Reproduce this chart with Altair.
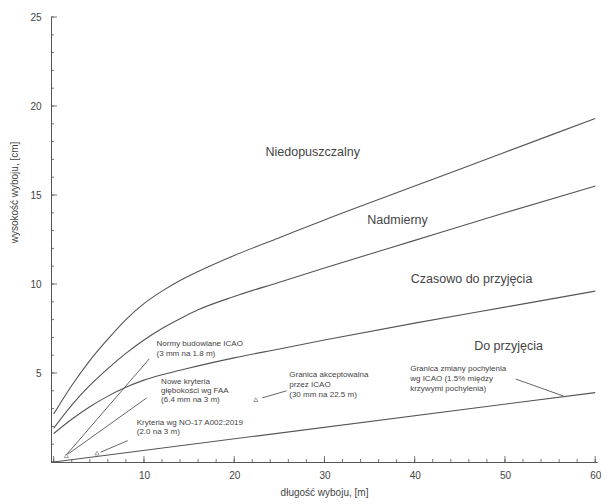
import altair as alt
import pandas as pd

# ---- data ----
x_grid = [0, 2, 4, 6, 8, 10, 12, 14, 16, 20, 25, 30, 40, 50, 60]
curve_niedop = [2.7, 4.3, 5.7, 6.9, 8.0, 8.9, 9.6, 10.2, 10.7, 11.6, 12.6, 13.6, 15.5, 17.4, 19.3]
curve_nadm = [1.9, 3.2, 4.3, 5.25, 6.1, 6.85, 7.5, 8.05, 8.55, 9.3, 10.1, 10.9, 12.45, 14.0, 15.5]
curve_czas = [1.6, 2.4, 3.1, 3.7, 4.2, 4.6, 4.9, 5.15, 5.4, 5.85, 6.35, 6.85, 7.8, 8.7, 9.6]
line_do_x = [0, 60]
line_do_y = [0, 3.9]

zone_labels = ["Niedopuszczalny", "Nadmierny", "Czasowo do przyjęcia", "Do przyjęcia"]
zone_x = [28.7, 38.1, 46.3, 50.4]
zone_y = [17.4, 13.6, 10.3, 6.5]

note_lines = [
    "Normy budowlane ICAO", "(3 mm na 1.8 m)",
    "Nowe kryteria", "głębokości wg FAA", "(6.4 mm na 3 m)",
    "Kryteria wg NO-17 A002:2019", "(2.0 na 3 m)",
    "Granica akceptowalna", "przez ICAO", "(30 mm na 22.5 m)",
    "Granica zmiany pochylenia", "wg ICAO (1.5% między", "krzywymi pochylenia)",
]
note_x = [11.4, 11.4, 11.9, 11.9, 11.9, 9.2, 9.2, 26.1, 26.1, 26.1, 39.5, 39.5, 39.5]
note_y = [6.63, 6.07, 4.49, 3.99, 3.48, 2.19, 1.69, 4.89, 4.33, 3.77, 5.22, 4.66, 4.10]

# leader lines (start = arrow tip, end = near label)
leader_names = ["ICAO normy", "FAA", "NO-17", "ICAO 22.5", "pochylenie"]
leader_x1 = [1.4, 1.6, 5.2, 23.1, 56.5]
leader_y1 = [0.4, 0.45, 0.55, 3.6, 3.7]
leader_x2 = [10.6, 10.3, 8.2, 25.8, 51.2]
leader_y2 = [5.8, 3.6, 1.2, 4.0, 4.66]
tip_x = [1.4, 4.8, 22.4]
tip_y = [0.35, 0.5, 3.5]

y_minor = list(range(0, 26))
y_major = [0, 5, 10, 15, 20, 25]
x_minor = list(range(0, 61, 2))
x_major = [0, 10, 20, 30, 40, 50, 60]

# ---- build tables ----
rows = []
for name, ys_ in [("niedop", curve_niedop), ("nadm", curve_nadm), ("czas", curve_czas)]:
    for xv, yv in zip(x_grid, ys_):
        rows.append({"series": name, "x": xv, "y": yv})
for xv, yv in zip(line_do_x, line_do_y):
    rows.append({"series": "do", "x": xv, "y": yv})
curves = pd.DataFrame(rows)

zones = pd.DataFrame({"label": zone_labels, "x": zone_x, "y": zone_y})
notes = pd.DataFrame({"label": note_lines, "x": note_x, "y": note_y})
leaders = pd.DataFrame({"name": leader_names, "x": leader_x1, "y": leader_y1,
                        "x2": leader_x2, "y2": leader_y2})
tips = pd.DataFrame({"x": tip_x, "y": tip_y})

W, H = 546, 445
LINE = "#555555"
TXT = "#444444"
FONT = "Liberation Sans"

xs = alt.Scale(domain=[-0.3, 60.2], nice=False, zero=False)
ys = alt.Scale(domain=[0, 25], nice=False)

xaxis = alt.Axis(values=x_major[1:], ticks=False, labelPadding=8, grid=False,
                 domainColor=LINE, labelColor=TXT, labelFontSize=10, labelFont=FONT,
                 title="długość wyboju, [m]", titleFont=FONT, titleFontSize=10,
                 titleFontWeight="normal", titleColor=TXT, titlePadding=7)
yaxis = alt.Axis(values=y_major[1:], ticks=False, labelPadding=10, grid=False,
                 domainColor=LINE, labelColor=TXT, labelFontSize=10, labelFont=FONT,
                 title="wysokość wyboju, [cm]", titleFont=FONT, titleFontSize=10,
                 titleFontWeight="normal", titleColor=TXT, titleX=-32, titleY=175)

base_curves = alt.Chart(curves).mark_line(color=LINE, strokeWidth=1.1, interpolate="monotone").encode(
    x=alt.X("x:Q", scale=xs, axis=xaxis),
    y=alt.Y("y:Q", scale=ys, axis=yaxis),
    detail="series:N",
)

lead = alt.Chart(leaders).mark_rule(color=LINE, strokeWidth=0.9).encode(
    x=alt.X("x:Q", scale=xs), y=alt.Y("y:Q", scale=ys), x2="x2:Q", y2="y2:Q"
)

tipm = alt.Chart(tips).mark_point(shape="triangle-up", filled=False, size=18,
                                  color=LINE, strokeWidth=0.8).encode(
    x=alt.X("x:Q", scale=xs), y=alt.Y("y:Q", scale=ys)
)

zone_text = alt.Chart(zones).mark_text(font=FONT, fontSize=12.5, color=TXT, align="center",
                                       baseline="middle").encode(
    x=alt.X("x:Q", scale=xs), y=alt.Y("y:Q", scale=ys), text="label:N"
)

note_text = alt.Chart(notes).mark_text(font=FONT, fontSize=8, color=TXT, align="left",
                                       baseline="middle").encode(
    x=alt.X("x:Q", scale=xs), y=alt.Y("y:Q", scale=ys), text="label:N"
)

ytick_minor = alt.Chart(pd.DataFrame({"v": y_minor})).mark_rule(color=LINE, strokeWidth=0.8).encode(
    y=alt.Y("v:Q", scale=ys), x=alt.value(0), x2=alt.value(3)
)
ytick_major = alt.Chart(pd.DataFrame({"v": y_major})).mark_rule(color=LINE, strokeWidth=0.8).encode(
    y=alt.Y("v:Q", scale=ys), x=alt.value(0), x2=alt.value(6)
)
xtick_minor = alt.Chart(pd.DataFrame({"v": x_minor})).mark_rule(color=LINE, strokeWidth=0.8).encode(
    x=alt.X("v:Q", scale=xs), y=alt.value(H), y2=alt.value(H - 3)
)
xtick_major = alt.Chart(pd.DataFrame({"v": x_major})).mark_rule(color=LINE, strokeWidth=0.8).encode(
    x=alt.X("v:Q", scale=xs), y=alt.value(H), y2=alt.value(H - 6)
)

chart = alt.layer(
    base_curves, ytick_minor, ytick_major, xtick_minor, xtick_major,
    lead, tipm, zone_text, note_text
).properties(
    width=W, height=H,
    autosize=alt.AutoSizeParams(type="none"),
    padding={"left": 43, "top": 9, "right": 6, "bottom": 40},
    background="white",
).configure_view(stroke=None)

chart.save("out.html", embed_options={"renderer": "svg", "actions": False})
